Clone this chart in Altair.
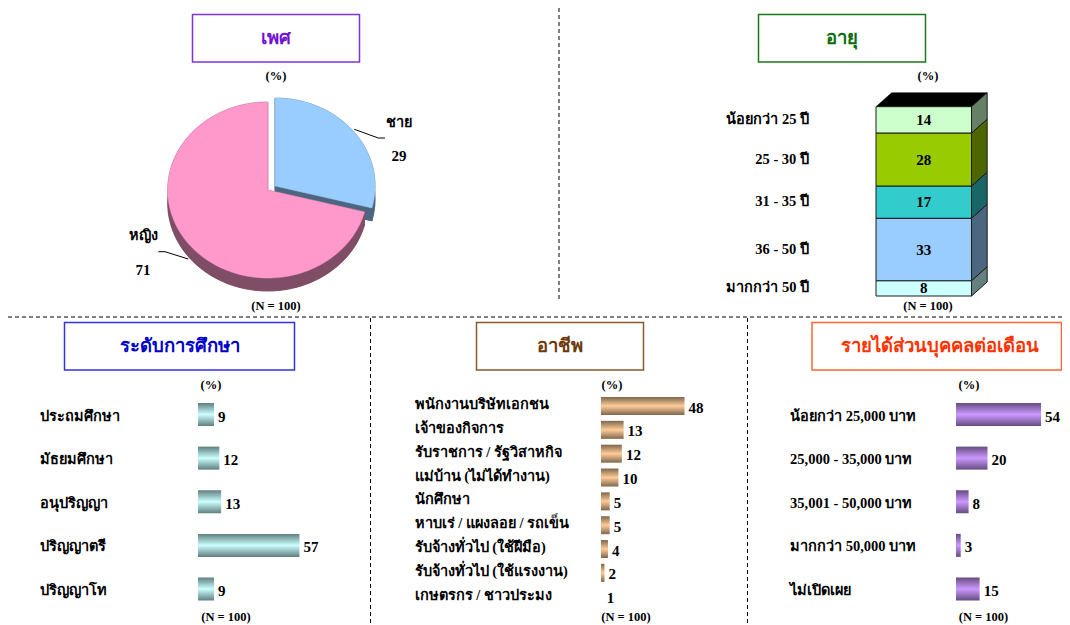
import numpy as np
import pandas as pd
import altair as alt

FONT = "Liberation Serif"

# ---- data
sex_labels = ["ชาย", "หญิง"]
sex_values = [29, 71]
age_labels = ["น้อยกว่า 25 ปี", "25 - 30 ปี", "31 - 35 ปี", "36 - 50 ปี", "มากกว่า 50 ปี"]
age_values = [14, 28, 17, 33, 8]
edu_labels = ["ประถมศึกษา", "มัธยมศึกษา", "อนุปริญญา", "ปริญญาตรี", "ปริญญาโท"]
edu_values = [9, 12, 13, 57, 9]
job_labels = ["พนักงานบริษัทเอกชน", "เจ้าของกิจการ", "รับราชการ / รัฐวิสาหกิจ", "แม่บ้าน (ไม่ได้ทำงาน)",
              "นักศึกษา", "หาบเร่ / แผงลอย / รถเข็น", "รับจ้างทั่วไป (ใช้ฝีมือ)", "รับจ้างทั่วไป (ใช้แรงงาน)",
              "เกษตรกร / ชาวประมง"]
job_values = [48, 13, 12, 10, 5, 5, 4, 2, 1]
inc_labels = ["น้อยกว่า 25,000 บาท", "25,000 - 35,000 บาท", "35,001 - 50,000 บาท", "มากกว่า 50,000 บาท", "ไม่เปิดเผย"]
inc_values = [54, 20, 8, 3, 15]

age_colors = ["#CCFFCC", "#99CC00", "#33CCCC", "#99CCFF", "#CCFFFF"]
age_sides = ["#668066", "#4D6600", "#1A6666", "#4D6680", "#668080"]


def P(v):
    return v - 8


layers = []


def text(s, x, y, size=15, color="black", align="center"):
    layers.append(
        alt.Chart(pd.DataFrame({"t": [s]}))
        .mark_text(font=FONT, fontWeight="bold", fontSize=size, color=color, align=align, baseline="middle")
        .encode(x=alt.value(P(x)), y=alt.value(P(y)), text="t:N")
    )


def rule(x1, y1, x2, y2, dash=None, width=1.0, color="black"):
    kw = {"strokeDash": dash} if dash else {}
    layers.append(
        alt.Chart(pd.DataFrame({"a": [0]}))
        .mark_rule(color=color, strokeWidth=width, **kw)
        .encode(x=alt.value(P(x1)), x2=alt.value(P(x2)), y=alt.value(P(y1)), y2=alt.value(P(y2)))
    )


def box(x1, y1, x2, y2, border):
    layers.append(
        alt.Chart(pd.DataFrame({"a": [0]}))
        .mark_rect(fill="white", stroke=border, strokeWidth=1.5)
        .encode(x=alt.value(P(x1)), x2=alt.value(P(x2)), y=alt.value(P(y1)), y2=alt.value(P(y2)))
    )


def polygon(points, fill, xs, ys, stroke=None, sw=0.5):
    arr = np.asarray(points, float)
    df = pd.DataFrame({"x": arr[:, 0], "y": arr[:, 1], "i": np.arange(len(arr))})
    layers.append(
        alt.Chart(df)
        .mark_line(fill=fill, stroke=stroke or fill, strokeWidth=sw, interpolate="linear-closed")
        .encode(
            x=alt.X("x:Q", scale=xs, axis=None),
            y=alt.Y("y:Q", scale=ys, axis=None),
            order=alt.Order("i:Q"),
        )
    )


# ---- separators
DASH = [4, 3]
rule(8, 317, 1062, 317, DASH)
rule(559, 8, 559, 300, DASH)
rule(370.5, 318, 370.5, 625, DASH)
rule(747.5, 318, 747.5, 625, DASH)

# ---- title boxes (x-centre of the text is given apart, the last box is cut by the page)
for x1, y1, x2, y2, border, title, col, tx in [
    (192.5, 14.5, 359.5, 62, "#7F33D9", "เพศ", "#6F14CF", 276),
    (758.5, 14.5, 925.5, 62, "#1A7A1A", "อายุ", "#0B6E0B", 842),
    (64.5, 322.5, 294.5, 370, "#3333DD", "ระดับการศึกษา", "#0000CC", 179.5),
    (476.5, 322.5, 643.5, 370, "#8B5A2B", "อาชีพ", "#6E3A0C", 560),
    (812, 322.5, 1061.5, 370, "#FF6633", "รายได้ส่วนบุคคลต่อเดือน", "#FF3300", 940),
]:
    box(x1, y1, x2, y2, border)
    text(title, tx, (y1 + y2) / 2, size=18.5, color=col)

# ---- pie (elliptical, extruded)
pie_x = alt.Scale(domain=[-1, 1], range=[P(167.7), P(367.7)], nice=False, zero=False)
pie_y = alt.Scale(domain=[-1, 1], range=[P(102), P(278)], nice=False, zero=False)
DEPTH = 0.148
EXPLODE = (0.074, -0.045)


def arc_pts(a0, a1, cx, cy):
    t = np.radians(np.arange(a0, a1, 2.0).tolist() + [a1])
    return np.column_stack([cx + np.sin(t), cy - np.cos(t)])


def slice_layers(a0, a1, cx, cy, top, side):
    arc = arc_pts(a0, a1, cx, cy)
    low = arc + [0, DEPTH]
    apex = np.array([[cx, cy]])
    polygon(np.vstack([arc, low[::-1]]), side, pie_x, pie_y)
    polygon(np.vstack([apex + [0, DEPTH], low]), side, pie_x, pie_y)
    polygon(np.vstack([apex, arc[[0]], low[[0]], apex + [0, DEPTH]]), side, pie_x, pie_y)
    polygon(np.vstack([apex, arc[[-1]], low[[-1]], apex + [0, DEPTH]]), side, pie_x, pie_y)
    polygon(np.vstack([apex, arc]), top, pie_x, pie_y)


split = 360 * sex_values[0] / sum(sex_values)
slice_layers(0, split, EXPLODE[0], EXPLODE[1], "#99CCFF", "#4D6680")
slice_layers(split, 360, 0, 0, "#FF99CC", "#804D66")

rule(354.3, 129.3, 378.3, 138)
rule(378.3, 138, 385, 138)
rule(188.3, 259, 165, 251.7)
rule(165, 251.7, 158.3, 251.7)
text(sex_labels[0], 398.5, 123, 14.5)
text(str(sex_values[0]), 399, 156)
text(sex_labels[1], 143, 236, 14.5)
text(str(sex_values[1]), 143, 270)
text("(%)", 276, 76, 12.5)
text("(N = 100)", 276, 306, 12.5)

# ---- stacked 3-D column
st_x = alt.Scale(domain=[0, 1], range=[P(876), P(971.5)], nice=False, zero=False)
st_y = alt.Scale(domain=[0, 100], range=[P(106.7), P(296)], nice=False, zero=False)
DX, DY = 0.164, 7.4
cum = np.concatenate([[0], np.cumsum(age_values)])
polygon([(0, 0), (1, 0), (1 + DX, -DY), (DX, -DY)], "black", st_x, st_y)
for i in range(len(age_values)):
    polygon([(1, cum[i]), (1 + DX, cum[i] - DY), (1 + DX, cum[i + 1] - DY), (1, cum[i + 1])],
            age_sides[i], st_x, st_y, stroke="#1A1A1A", sw=1)
st_df = pd.DataFrame({
    "a": 0.0, "b": 1.0, "y0": cum[:-1], "y1": cum[1:], "c": age_colors,
    "mid": (cum[:-1] + cum[1:]) / 2, "v": age_values, "lab": age_labels, "m": 0.5,
})
layers.append(
    alt.Chart(st_df).mark_rect(stroke="#1A1A1A", strokeWidth=1).encode(
        x=alt.X("a:Q", scale=st_x, axis=None), x2="b:Q",
        y=alt.Y("y0:Q", scale=st_y, axis=None), y2="y1:Q",
        fill=alt.Fill("c:N", scale=None),
    )
)
layers.append(
    alt.Chart(st_df).mark_text(font=FONT, fontWeight="bold", fontSize=15, color="black").encode(
        x=alt.X("m:Q", scale=st_x, axis=None), y=alt.Y("mid:Q", scale=st_y, axis=None), text="v:Q",
    )
)
layers.append(
    alt.Chart(st_df).mark_text(font=FONT, fontWeight="bold", fontSize=14.5, color="black", align="right").encode(
        x=alt.value(P(809)), y=alt.Y("mid:Q", scale=st_y, axis=None), text="lab:N",
    )
)
text("(%)", 928, 76, 12.5)
text("(N = 100)", 928, 306, 12.5)


# ---- gradient bar panels
def grad(edge, mid):
    return {"gradient": "linear", "x1": 0, "x2": 0, "y1": 0, "y2": 1,
            "stops": [{"offset": 0, "color": edge}, {"offset": 0.5, "color": mid}, {"offset": 1, "color": edge}]}


def bars(labels, values, x0, k, y0, y1, size, edge, mid, label_x, dy_label=2, dy_value=2, min_bar=0):
    df = pd.DataFrame({"lab": labels, "v": values})
    xs = alt.Scale(domain=[0, 100], range=[P(x0), P(x0 + k * 100)], nice=False, zero=False)
    ys = alt.Scale(type="point", domain=labels, range=[P(y0), P(y1)], padding=0)
    layers.append(
        alt.Chart(df[df.v > min_bar]).mark_bar(size=size, color=grad(edge, mid)).encode(
            x=alt.X("v:Q", scale=xs, axis=None, stack=None),
            y=alt.Y("lab:N", scale=ys, axis=None, sort=None),
        )
    )
    layers.append(
        alt.Chart(df).mark_text(font=FONT, fontWeight="bold", fontSize=15, color="black", align="left",
                                dx=4, dy=dy_value).encode(
            x=alt.X("v:Q", scale=xs, axis=None, stack=None),
            y=alt.Y("lab:N", scale=ys, axis=None, sort=None),
            text="v:Q",
        )
    )
    layers.append(
        alt.Chart(df).mark_text(font=FONT, fontWeight="bold", fontSize=14.5, color="black", align="left",
                                dy=dy_label).encode(
            x=alt.value(P(label_x)),
            y=alt.Y("lab:N", scale=ys, axis=None, sort=None),
            text="lab:N",
        )
    )


bars(edu_labels, edu_values, 198, 1.78, 414.5, 589, 23, "#5F7F7F", "#CCFFFF", 40)
bars(job_labels, job_values, 601, 1.74, 406, 596.7, 18, "#7F664C", "#FFCC99", 414.5, dy_label=-1, dy_value=1.5, min_bar=1)
bars(inc_labels, inc_values, 956, 1.575, 414.5, 589, 23, "#664C80", "#CC99FF", 790)

text("(%)", 211, 385, 12.5)
text("(N = 100)", 226, 616.5, 12.5)
text("(%)", 612, 385, 12.5)
text("(N = 100)", 626, 616.5, 12.5)
text("(%)", 969, 385, 12.5)
text("(N = 100)", 983.5, 616.5, 12.5)

chart = (
    alt.layer(*layers)
    .resolve_scale(x="independent", y="independent")
    .properties(width=1054, height=617, padding=0, autosize=alt.AutoSizeParams(type="none"), background="white")
    .configure_view(stroke=None)
)
chart.save("out.html", embed_options={"renderer": "svg", "actions": False})
